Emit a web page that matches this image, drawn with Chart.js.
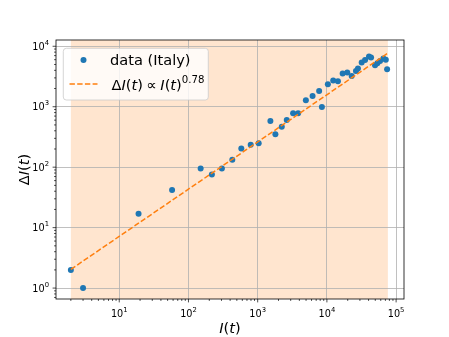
<!DOCTYPE html>
<html>
<head>
<meta charset="utf-8">
<script src="https://cdn.jsdelivr.net/npm/chart.js@4.4.0/dist/chart.umd.min.js"></script>
<style>
  html, body { margin: 0; padding: 0; background: #fff; }
</style>
</head>
<body>
<canvas id="chart" width="449" height="337"></canvas>
<script>
// cumulative cases I(t) and daily increase dI(t)
var cumCases = [2, 3, 19, 58, 150, 218, 304, 430, 580, 793, 1034, 1527, 1803, 2229, 2633, 3250, 3840,
  4966, 6210, 7730, 8470, 10330, 12340, 14430, 16890, 19700, 22800, 26300, 28100, 31800, 35600,
  40600, 43500, 49600, 53600, 58600, 65500, 71000, 74100];
var dailyNew = [2, 1, 17, 42, 95, 76, 95, 133, 204, 235, 250, 579, 352, 468, 601, 778, 778,
  1277, 1504, 1820, 988, 2350, 2710, 2640, 3540, 3670, 3230, 3910, 4285, 5390, 5950,
  6770, 6520, 4860, 5250, 5730, 6280, 5960, 4170];

// power-law fit line end points
var fitX = [2, 76000];
var fitY = [2.04, 7700];

// shaded fitting window
var spanX = [2.0, 76000];

var xRange = [1.22, 1.3e5];
var yRange = [0.66, 1.27e4];
var xTickVals = [10, 100, 1000, 10000, 100000];
var xTickExp = ['1', '2', '3', '4', '5'];
var yTickVals = [1, 10, 100, 1000, 10000];
var yTickExp = ['0', '1', '2', '3', '4'];

var FONT = '"DejaVu Sans", sans-serif';

function minorTicks(lo, hi) {
  var out = [];
  for (var e = -1; e <= 5; e++) {
    for (var k = 1; k <= 9; k++) {
      var v = k * Math.pow(10, e);
      if (v >= lo && v <= hi) out.push(v);
    }
  }
  return out;
}
function isDecade(v) {
  var l = Math.log10(v);
  return Math.abs(l - Math.round(l)) < 1e-9;
}

var pts = cumCases.map(function (x, i) { return { x: x, y: dailyNew[i] }; });
var fitPts = fitX.map(function (x, i) { return { x: x, y: fitY[i] }; });

// draw runs of [text, italic, size, dy] left to right
function runsWidth(ctx, runs) {
  var w = 0;
  runs.forEach(function (r) {
    ctx.font = (r[1] ? 'oblique ' : '') + r[2] + 'px ' + FONT;
    w += ctx.measureText(r[0]).width + (r[4] || 0);
  });
  return w;
}
function drawRuns(ctx, x, y, runs) {
  runs.forEach(function (r) {
    ctx.font = (r[1] ? 'oblique ' : '') + r[2] + 'px ' + FONT;
    ctx.fillText(r[0], x, y - (r[3] || 0));
    x += ctx.measureText(r[0]).width + (r[4] || 0);
  });
}

var decor = {
  id: 'decor',
  beforeDraw: function (chart) {
    var ctx = chart.ctx, a = chart.chartArea, xs = chart.scales.x;
    ctx.save();
    ctx.fillStyle = '#fff';
    ctx.fillRect(0, 0, chart.width, chart.height);
    var x0 = xs.getPixelForValue(spanX[0]), x1 = xs.getPixelForValue(spanX[1]);
    ctx.fillStyle = 'rgba(255,127,14,0.2)';
    ctx.fillRect(x0, a.top, x1 - x0, a.bottom - a.top);
    ctx.restore();
  },
  afterDraw: function (chart) {
    var ctx = chart.ctx, a = chart.chartArea, xs = chart.scales.x, ys = chart.scales.y;
    ctx.save();
    // spines
    ctx.strokeStyle = '#000';
    ctx.lineWidth = 0.8;
    ctx.strokeRect(a.left, a.top, a.right - a.left, a.bottom - a.top);
    // tick marks
    ctx.beginPath();
    xs.ticks.forEach(function (t) {
      var px = xs.getPixelForValue(t.value), len = isDecade(t.value) ? 3.4 : 1.9;
      ctx.moveTo(px, a.bottom); ctx.lineTo(px, a.bottom + len);
    });
    ys.ticks.forEach(function (t) {
      var py = ys.getPixelForValue(t.value), len = isDecade(t.value) ? 3.4 : 1.9;
      ctx.moveTo(a.left, py); ctx.lineTo(a.left - len, py);
    });
    ctx.lineWidth = 0.7;
    ctx.stroke();

    // tick labels
    ctx.fillStyle = '#000';
    ctx.textAlign = 'left';
    ctx.textBaseline = 'alphabetic';
    xTickVals.forEach(function (v, i) {
      var runs = [['10', false, 9.7], [xTickExp[i], false, 6.8, 5]];
      var w = runsWidth(ctx, runs);
      drawRuns(ctx, xs.getPixelForValue(v) - w / 2, a.bottom + 17.5, runs);
    });
    yTickVals.forEach(function (v, i) {
      var runs = [['10', false, 9.7], [yTickExp[i], false, 6.8, 5]];
      var w = runsWidth(ctx, runs);
      drawRuns(ctx, a.left - 7 - w, ys.getPixelForValue(v) + 3.5, runs);
    });

    // axis titles
    var xl = [['I', true, 14.6], ['(', false, 14.6], ['t', true, 14.6], [')', false, 14.6]];
    var wx = runsWidth(ctx, xl);
    drawRuns(ctx, (a.left + a.right) / 2 - wx / 2, 333.3, xl);
    var yl = [['\u0394', false, 14.6], ['I', true, 14.6], ['(', false, 14.6], ['t', true, 14.6], [')', false, 14.6]];
    var wy = runsWidth(ctx, yl);
    ctx.save();
    ctx.translate(28.5, (a.top + a.bottom) / 2);
    ctx.rotate(-Math.PI / 2);
    drawRuns(ctx, -wy / 2, 0, yl);
    ctx.restore();

    // legend
    var bx = 63.3, by = 48.3, bw = 145, bh = 51.7, r = 3;
    ctx.beginPath();
    ctx.moveTo(bx + r, by);
    ctx.arcTo(bx + bw, by, bx + bw, by + bh, r);
    ctx.arcTo(bx + bw, by + bh, bx, by + bh, r);
    ctx.arcTo(bx, by + bh, bx, by, r);
    ctx.arcTo(bx, by, bx + bw, by, r);
    ctx.closePath();
    ctx.fillStyle = 'rgba(255,255,255,0.8)';
    ctx.fill();
    ctx.strokeStyle = '#cccccc';
    ctx.lineWidth = 0.8;
    ctx.stroke();

    ctx.fillStyle = '#1f77b4';
    ctx.beginPath();
    ctx.arc(83.5, 60, 3, 0, Math.PI * 2);
    ctx.fill();
    ctx.fillStyle = '#000';
    drawRuns(ctx, 110, 65.2, [['data (Italy)', false, 14.6]]);

    ctx.strokeStyle = '#ff7f0e';
    ctx.lineWidth = 1.5;
    ctx.setLineDash([5.4, 2.3]);
    ctx.beginPath();
    ctx.moveTo(69.5, 84); ctx.lineTo(97.5, 84);
    ctx.stroke();
    ctx.setLineDash([]);
    ctx.fillStyle = '#000';
    drawRuns(ctx, 111.5, 90, [
      ['\u0394', false, 14.6], ['I', true, 14.6], ['(', false, 14.6], ['t', true, 14.6], [')', false, 14.6, 0, 3.5],
      ['\u221D', false, 14.6, 0, 3.5],
      ['I', true, 14.6], ['(', false, 14.6], ['t', true, 14.6], [')', false, 14.6],
      ['0.78', false, 10.2, 7]
    ]);
    ctx.restore();
  }
};

function logAxis(range, fitFn) {
  return {
    type: 'logarithmic',
    min: range[0],
    max: range[1],
    afterFit: fitFn,
    afterBuildTicks: function (s) {
      s.ticks = minorTicks(range[0], range[1]).map(function (v) { return { value: v }; });
    },
    ticks: { display: false },
    border: { display: false },
    grid: {
      drawTicks: false,
      lineWidth: 0.8,
      color: function (c) { return c.tick && isDecade(c.tick.value) ? '#b0b0b0' : 'rgba(0,0,0,0)'; }
    }
  };
}

new Chart(document.getElementById('chart').getContext('2d'), {
  type: 'scatter',
  data: {
    datasets: [{
      label: 'data (Italy)',
      data: pts,
      backgroundColor: '#1f77b4',
      borderWidth: 0,
      pointRadius: 3,
      order: 2
    }, {
      label: 'fit',
      type: 'line',
      data: fitPts,
      borderColor: '#ff7f0e',
      borderWidth: 1.5,
      borderDash: [5.4, 2.3],
      pointRadius: 0,
      fill: false,
      order: 1
    }]
  },
  options: {
    responsive: false,
    animation: false,
    devicePixelRatio: 1,
    layout: { padding: { left: 56, top: 40, right: 45, bottom: 38 } },
    plugins: { legend: { display: false }, tooltip: { enabled: false } },
    scales: {
      x: logAxis(xRange, function (s) { s.height = 0; }),
      y: logAxis(yRange, function (s) { s.width = 0; })
    }
  },
  plugins: [decor]
});
</script>
</body>
</html>
